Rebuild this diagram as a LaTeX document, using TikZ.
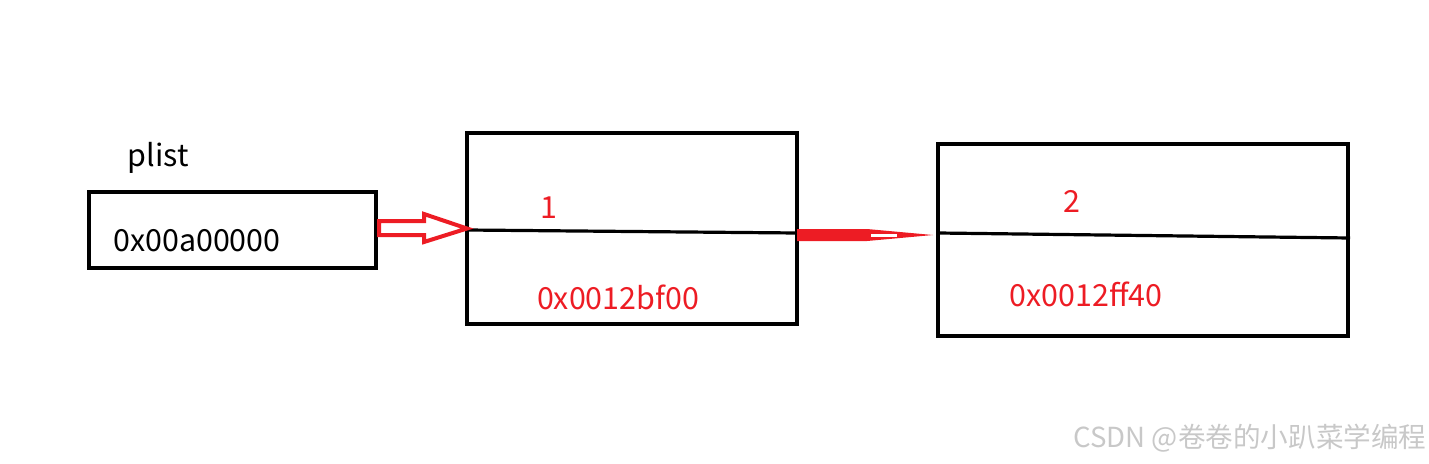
\documentclass[tikz,border=0pt]{standalone}
\usepackage{fontspec}
\setmainfont{Noto Sans CJK SC}
\usetikzlibrary{calc}
\definecolor{pen}{RGB}{237,28,36}
\definecolor{mark}{RGB}{200,200,200}

\begin{document}
\begin{tikzpicture}[x=0.75pt,y=-0.75pt,
    box/.style={draw=black,line width=3pt,rectangle,inner sep=0pt},
    txt/.style={font=\fontsize{22.8}{26}\selectfont,inner sep=0pt},
    redtxt/.style={txt,text=pen}]

                \useasboundingbox (0,0) rectangle (1429,464);

                % three boxes
                \node[box,minimum width=215.25pt,minimum height=57pt] (plist) at(232.5,230) {};
                \node[box,minimum width=247.5pt,minimum height=143.25pt] (first) at(632,228.5) {};
                \node[box,minimum width=307.5pt,minimum height=144pt] (second) at(1143,240) {};

                \coordinate (fl) at(467,230);
                \coordinate (fr) at(797,233);
                \coordinate (sl) at(938,233);
                \coordinate (sr) at(1350,238);
                \draw[line width=2.4pt] (fl)--(fr);
                \draw[line width=2.4pt] (sl)--(sr);

                \node[txt] (name) at(158,158) {plist};
                \node[txt] (addr) at(197,241) {0x00a00000};
                \node[redtxt] (one) at(549,208) {1};
                \node[redtxt] (oneaddr) at(618,297) {0x0012bf00};
                \node[redtxt] (two) at(1072,201) {2};
                \node[redtxt] (twoaddr) at(1086,294) {0x0012ff40};

                % hollow arrow
                \draw[pen,line width=3pt,line join=miter] (plist.east) ++(1,-9) -- ++(45,0) -- ++(0,-7)
                    -- ($(first.west)+(2,0)$) -- ($(plist.east)+(46,12)$) -- ++(0,-7) -- ++(-45,0) -- cycle;

                % thick arrow
                \fill[pen] ($(fr)+(0,-4)$) -- ($(fr)+(70,-4)$) -- ($(sl)+(-5,2)$) -- ($(fr)+(70,8)$) -- ($(fr)+(0,8)$) -- cycle;
                \fill[white] ($(fr)+(74,0.5)$) rectangle ($(fr)+(100,3.5)$);

                \node[text=mark,font=\fontsize{20.7}{24}\selectfont,inner sep=0pt] (sign) at(1250,438) {CSDN @卷卷的小趴菜学编程};

            \end{tikzpicture}
\end{document}
